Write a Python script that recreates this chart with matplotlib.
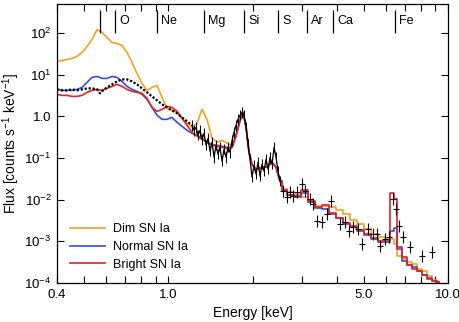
import matplotlib
matplotlib.use("Agg")
import matplotlib.pyplot as plt
from matplotlib.ticker import FixedLocator, NullFormatter, NullLocator

plt.rcParams['font.family'] = ['Liberation Sans', 'DejaVu Sans']
plt.rcParams['mathtext.fontset'] = 'custom'
plt.rcParams['mathtext.rm'] = 'Liberation Sans'
plt.rcParams['mathtext.it'] = 'Liberation Sans:italic'

# model energy grid (keV): smooth part, then binned part
e_model = [0.400, 0.4168, 0.4343, 0.4526, 0.4716, 0.4914, 0.5120, 0.5335, 0.5559, 0.5792,
           0.6036, 0.6290, 0.6554, 0.6830, 0.7117, 0.7415, 0.7727, 0.8052, 0.8390, 0.8742,
           0.9110, 0.9493, 0.9892, 1.0308, 1.0741, 1.1192, 1.1663, 1.2153, 1.2664, 1.3196,
           1.3750, 1.4328, 1.4930, 1.5558, 1.6212, 1.6893, 1.7459, 1.8043, 1.8495, 1.8958,
           1.9432, 1.9918, 2.0584, 2.1273, 2.1986, 2.2722, 2.3482, 2.4269, 2.5081]
e_bins = [2.571, 2.723, 2.884, 3.055, 3.237, 3.428, 3.631, 3.848, 4.076, 4.318, 4.574,
          4.846, 5.133, 5.437, 5.759, 6.101, 6.306, 6.463, 6.680, 6.960, 7.253, 7.558,
          7.875, 8.206, 8.552, 8.911, 9.286]

dim_smooth = [20.8, 21.9, 23.2, 24.5, 27.4, 34.1, 47.5, 69.9, 121, 103,
              78.0, 59.2, 56.0, 50.2, 34.1, 19.7, 10.7, 6.17, 4.20, 4.95,
              5.53, 2.85, 1.55, 1.39, 1.25, 0.896, 0.680, 0.545, 0.680, 1.47,
              0.848, 0.297, 0.238, 0.266, 0.226, 0.202, 0.351, 0.759, 1.25, 0.545,
              0.137, 0.0707, 0.0537, 0.0567, 0.0599, 0.0633, 0.0790, 0.0599, 0.0277]
dim_bins = [0.0179, 0.0151, 0.0136, 0.0115, 0.00875, 0.00701, 0.00701, 0.00663, 0.00562,
            0.00451, 0.00323, 0.00260, 0.00197, 0.00150, 0.00127, 0.00114, 0.00114,
            0.000864, 0.000445, 0.000377, 0.000320, 0.000286, 0.000217, 0.000195,
            0.000147, 0.000118, 0.000106]

normal_smooth = [4.43, 4.20, 4.20, 4.20, 4.43, 4.95, 6.52, 8.59, 9.08, 8.13,
                 8.13, 9.08, 8.59, 6.89, 5.23, 4.43, 3.97, 3.37, 2.55, 1.64,
                 1.06, 0.848, 0.848, 0.946, 0.718, 0.576, 0.462, 0.392, 0.351, 0.297,
                 0.238, 0.202, 0.191, 0.181, 0.171, 0.181, 0.351, 0.802, 1.25, 0.545,
                 0.137, 0.0707, 0.0537, 0.0567, 0.0599, 0.0633, 0.0790, 0.0599, 0.0277]
normal_bins = [0.0169, 0.0128, 0.0115, 0.0143, 0.00875, 0.00626, 0.00594, 0.00451, 0.00361,
               0.00260, 0.00220, 0.00177, 0.00142, 0.00114, 0.000965, 0.000965, 0.00177,
               0.00208, 0.000729, 0.000338, 0.000271, 0.000243, 0.000195, 0.000156,
               0.000132, 0.000112, 0.000106]

bright_smooth = [3.37, 3.18, 3.18, 3.01, 3.01, 3.18, 3.76, 4.20, 4.43, 4.20,
                 4.69, 5.23, 5.84, 5.23, 4.43, 3.97, 3.76, 3.56, 2.70, 1.64,
                 1.32, 1.47, 1.74, 1.64, 1.32, 0.896, 0.609, 0.414, 0.332, 0.281,
                 0.238, 0.213, 0.202, 0.191, 0.181, 0.181, 0.332, 0.802, 1.25, 0.576,
                 0.137, 0.0707, 0.0537, 0.0567, 0.0599, 0.0633, 0.0790, 0.0599, 0.0277]
bright_bins = [0.0169, 0.0128, 0.0122, 0.0169, 0.00925, 0.00663, 0.00739, 0.00475, 0.00361,
               0.00275, 0.00233, 0.00187, 0.00150, 0.00120, 0.00102, 0.00108, 0.0143,
               0.0103, 0.000656, 0.000421, 0.000271, 0.000217, 0.000195, 0.000156,
               0.000125, 0.000112, 0.000106]

# observed spectrum: dense low-energy points
e_obs_low = [0.400, 0.4168, 0.4343, 0.4526, 0.4716, 0.4914, 0.5120, 0.5335, 0.5559, 0.5699,
             0.5840, 0.6036, 0.6290, 0.6554, 0.6830, 0.7117, 0.7415, 0.7727, 0.8052, 0.8390,
             0.8742, 0.9110, 0.9493, 0.9892, 1.0308, 1.0741, 1.1192, 1.1663, 1.2153]
f_obs_low = [4.43, 4.20, 4.20, 4.43, 4.20, 4.43, 4.69, 4.69, 4.43, 3.56,
             4.20, 4.95, 5.84, 6.89, 7.70, 7.70, 6.89, 5.84, 4.69, 3.76,
             3.01, 2.42, 1.94, 1.64, 1.39, 1.18, 0.946, 0.759, 0.609]

# observed spectrum: 1.2 - 2.5 keV
e_obs_mid = [1.2153, 1.2355, 1.2560, 1.2769, 1.2981, 1.3196, 1.3415, 1.3638, 1.3864, 1.4094,
             1.4328, 1.4566, 1.4808, 1.5054, 1.5304, 1.5558, 1.5817, 1.6080, 1.6346, 1.6618,
             1.6893, 1.7174, 1.7459, 1.7749, 1.8043, 1.8343, 1.8648, 1.8958, 1.9272, 1.9592,
             1.9918, 2.0248, 2.0584, 2.0926, 2.1273, 2.1627, 2.1986, 2.2352, 2.2722, 2.3100,
             2.3482, 2.3874, 2.4269, 2.4673, 2.5081]
f_obs_mid = [0.609, 0.462, 0.545, 0.351, 0.462, 0.281, 0.392, 0.202, 0.297, 0.145,
             0.238, 0.104, 0.202, 0.123, 0.181, 0.0836, 0.162, 0.104, 0.181, 0.137,
             0.266, 0.414, 0.609, 0.848, 1.06, 1.25, 1.06, 0.545, 0.213, 0.0932,
             0.0346, 0.0669, 0.0408, 0.0790, 0.0365, 0.0707, 0.0481, 0.0932, 0.0537, 0.104,
             0.0707, 0.181, 0.104, 0.0481, 0.0277]

# observed spectrum: binned points above 2.5 keV
e_obs_high = [2.571, 2.657, 2.723, 2.791, 2.884, 3.005, 3.081, 3.210, 3.290, 3.400,
              3.543, 3.692, 3.817, 4.110, 4.283, 4.426, 4.574, 4.767, 4.926, 5.175,
              5.392, 5.573, 5.712, 5.952, 6.152, 6.358, 6.517, 6.680, 6.903, 7.313,
              8.072, 8.766]
f_obs_high = [0.0160, 0.0115, 0.0151, 0.0122, 0.0151, 0.0235, 0.0160, 0.0103, 0.00783, 0.00307,
              0.00290, 0.00451, 0.00925, 0.00260, 0.00290, 0.00177, 0.00220, 0.00197, 0.000864, 0.00197,
              0.00150, 0.00150, 0.000774, 0.00114, 0.00127, 0.0103, 0.00594, 0.00233, 0.00127, 0.000729,
              0.000445, 0.000553]

models = [("Dim SN Ia", dim_smooth, dim_bins, "#F4A31E"),
          ("Normal SN Ia", normal_smooth, normal_bins, "#2F4FE0"),
          ("Bright SN Ia", bright_smooth, bright_bins, "#E2222A")]

lines_e = [0.57, 0.645, 0.911, 1.34, 1.866, 2.47, 3.13, 3.88, 6.46]
lines_lbl = ["", "O", "Ne", "Mg", "Si", "S", "Ar", "Ca", "Fe"]

xticks = [0.4, 1.0, 5.0, 10.0]
xminor = [0.5, 0.6, 0.7, 0.8, 0.9, 2, 3, 4, 6, 7, 8, 9]
yticks = [1e-4, 1e-3, 1e-2, 1e-1, 1, 10, 100]
ylabels = ["$10^{-4}$", "$10^{-3}$", "$10^{-2}$", "$10^{-1}$", "1.0", "$10^{1}$", "$10^{2}$"]

fig = plt.figure(figsize=(4.6, 3.22), dpi=100)
ax = fig.add_axes([0.124, 0.121, 0.850, 0.867])

for name, sm, bn, col in models:
    ax.plot(e_model, sm, color=col, lw=1.2, label=name)
    ax.plot(e_model[-1:] + e_bins, sm[-1:] + bn, color=col, lw=1.2, drawstyle='steps-mid')

# data
ax.plot(e_obs_low, f_obs_low, color='black', lw=1.6, ls=(0, (1, 0.8)))
ax.errorbar(e_obs_mid, f_obs_mid, yerr=[[f * 0.25 for f in f_obs_mid], [f * 0.33 for f in f_obs_mid]],
            fmt='-', color='black', lw=0.9, elinewidth=0.7, capsize=0)
ax.errorbar(e_obs_high, f_obs_high,
            xerr=[[e * 0.028 for e in e_obs_high], [e * 0.028 for e in e_obs_high]],
            yerr=[[f * 0.28 for f in f_obs_high], [f * 0.39 for f in f_obs_high]],
            fmt='none', ecolor='black', elinewidth=0.8, capsize=0)

ax.set_xscale('log')
ax.set_yscale('log')
ax.set_xlim(0.4, 10.0)
ax.set_ylim(1e-4, 500)

ax.xaxis.set_major_locator(FixedLocator(xticks))
ax.set_xticklabels(["%.1f" % v for v in xticks])
ax.xaxis.set_minor_locator(FixedLocator(xminor))
ax.xaxis.set_minor_formatter(NullFormatter())
ax.yaxis.set_major_locator(FixedLocator(yticks))
ax.set_yticklabels(ylabels)
ax.yaxis.set_minor_locator(NullLocator())
ax.tick_params(which='both', direction='in', top=True, right=True, length=5, width=0.8,
               labelsize=9.5, pad=4)

for sp in ax.spines.values():
    sp.set_linewidth(0.9)

tr = ax.get_xaxis_transform()
ax.vlines(lines_e, 0.896, 0.978, transform=tr, color='black', lw=0.9)
for e, lbl in zip(lines_e, lines_lbl):
    ax.annotate(lbl, (e, 0.937), xycoords=tr, xytext=(3, 0), textcoords='offset points',
                ha='left', va='center', fontsize=9)

ax.set_xlabel("Energy [keV]", fontsize=10, labelpad=4)
ax.set_ylabel("Flux [counts s$^{-1}$ keV$^{-1}$]", fontsize=10, labelpad=2)

ax.legend(loc='lower left', bbox_to_anchor=(0.0, 0.0), frameon=False, fontsize=9,
          handlelength=2.8, handletextpad=0.7, labelspacing=0.45, borderaxespad=0.6)

fig.savefig("out.png", dpi=100)
